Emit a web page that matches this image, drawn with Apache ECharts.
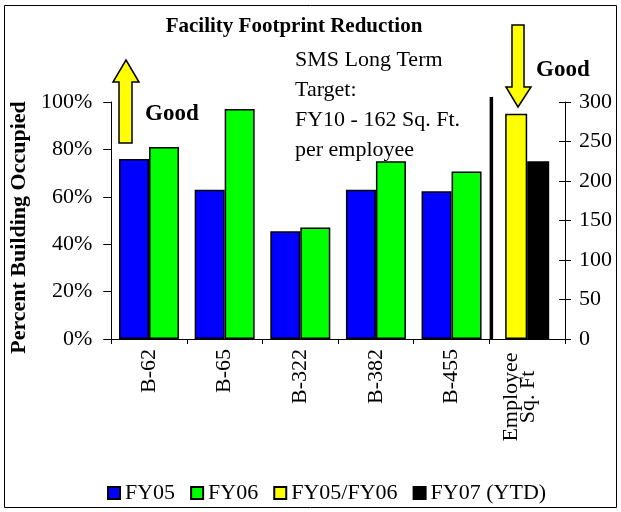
<!DOCTYPE html>
<html>
<head>
<meta charset="utf-8">
<script src="https://cdn.jsdelivr.net/npm/echarts@6/dist/echarts.min.js"></script>
<style>
  html, body { margin: 0; padding: 0; background: #fff; }
  #chart { width: 621px; height: 512px; }
</style>
</head>
<body>
<div id="chart"></div>
<script>
// Buildings plus the per-employee footprint group
const categories = ['B-62', 'B-65', 'B-322', 'B-382', 'B-455', 'Employee\nSq. Ft'];

// Percent of building occupied (left axis)
const fy05 = [76, 63, 45.5, 63, 62.3, null];
const fy06 = [81, 97, 47, 75, 70.7, null];

// Square feet per employee (right axis)
const fy0506 = [null, null, null, null, null, 285];
const fy07ytd = [null, null, null, null, null, 225];

const percentTicks = { min: 0, max: 100, interval: 20 };
const sqftTicks = { min: 0, max: 300, interval: 50 };

const SERIF = "'Liberation Serif', 'Times New Roman', serif";
const BLUE = '#0000ff', GREEN = '#00ff00', YELLOW = '#ffff00', BLACK = '#000000';

const chart = echarts.init(document.getElementById('chart'), null, { renderer: 'canvas' });

const barBorder = { borderColor: '#000', borderWidth: 1.5 };

const option = {
  backgroundColor: '#fff',
  animation: false,
  title: {
    text: 'Facility Footprint Reduction',
    left: 289, top: 11, textAlign: 'center',
    textStyle: { fontFamily: SERIF, fontWeight: 'bold', fontSize: 21, color: '#000' }
  },
  legend: {
    left: 102, top: 477,
    itemWidth: 12, itemHeight: 12, itemGap: 15,
    icon: 'rect',
    textStyle: { fontFamily: SERIF, fontSize: 22, color: '#000' },
    data: ['FY05', 'FY06', 'FY05/FY06', 'FY07 (YTD)']
  },
  grid: { left: 108, right: 56, top: 102, bottom: 173 },
  xAxis: [
    {
      type: 'category', data: categories, gridIndex: 0,
      axisLine: { lineStyle: { color: '#000', width: 1 } },
      axisTick: { show: true, length: 5, lineStyle: { color: '#000' } },
      axisLabel: {
        rotate: 90, margin: 10, interval: 0, color: '#000',
        fontFamily: SERIF, fontSize: 22,
        formatter: function (v) {
          const lines = v.split('\n');
          if (lines.length > 1) return lines.map(l => '{c|' + l + '}').join('\n') + '\n{e| }';
          return v;
        },
        rich: {
          c: { width: 96, align: 'center', fontFamily: SERIF, fontSize: 22, color: '#000', lineHeight: 17 },
          e: { fontSize: 8, lineHeight: 14 }
        }
      },
      splitLine: { show: false }
    },
    {
      type: 'category', data: categories, gridIndex: 0, show: false
    }
  ],
  yAxis: [
    {
      type: 'value', position: 'left',
      min: percentTicks.min, max: percentTicks.max, interval: percentTicks.interval,
      name: 'Percent Building Occupied', nameLocation: 'middle', nameGap: 76, nameRotate: 90,
      nameTextStyle: { fontFamily: SERIF, fontWeight: 'bold', fontSize: 22, color: '#000', padding: [0, 14, 0, 0] },
      axisLine: { show: true, lineStyle: { color: '#000' } },
      axisTick: { show: true, length: 8, lineStyle: { color: '#000' } },
      axisLabel: { formatter: '{value}%', fontFamily: SERIF, fontSize: 22, color: '#000', margin: 19 },
      splitLine: { show: false }
    },
    {
      type: 'value', position: 'right',
      min: sqftTicks.min, max: sqftTicks.max, interval: sqftTicks.interval,
      axisLine: { show: true, lineStyle: { color: '#000' } },
      axisTick: { show: true, length: 6, inside: false, lineStyle: { color: '#000' } },
      axisLabel: { fontFamily: SERIF, fontSize: 22, color: '#000', margin: 14 },
      splitLine: { show: false }
    },
    {
      // inner half of the right-hand ticks, so they cross the axis line
      type: 'value', position: 'right',
      min: sqftTicks.min, max: sqftTicks.max, interval: sqftTicks.interval,
      axisLine: { show: false },
      axisTick: { show: true, length: 6, inside: true, lineStyle: { color: '#000' } },
      axisLabel: { show: false },
      splitLine: { show: false }
    }
  ],
  series: [
    { name: 'FY05', type: 'bar', xAxisIndex: 0, yAxisIndex: 0, data: fy05,
      barWidth: 30, barGap: '0%', itemStyle: Object.assign({ color: BLUE }, barBorder) },
    { name: 'FY06', type: 'bar', xAxisIndex: 0, yAxisIndex: 0, data: fy06,
      barWidth: 30, barGap: '0%', itemStyle: Object.assign({ color: GREEN }, barBorder) },
    { name: 'FY05/FY06', type: 'bar', xAxisIndex: 1, yAxisIndex: 1, data: fy0506,
      barWidth: 22, barGap: '0%', itemStyle: Object.assign({ color: YELLOW }, barBorder) },
    { name: 'FY07 (YTD)', type: 'bar', xAxisIndex: 1, yAxisIndex: 1, data: fy07ytd,
      barWidth: 22, barGap: '0%', itemStyle: Object.assign({ color: BLACK }, barBorder) }
  ]
};

chart.setOption(option);

// Annotations: frame, "Good" direction arrows, target note and group separator
const arrowStyle = { fill: YELLOW, stroke: '#000', lineWidth: 1.5 };
const goodText = { fontFamily: SERIF, fontWeight: 'bold', fontSize: 23, fill: '#000' };

const bPx = chart.convertToPixel({ xAxisIndex: 0 }, 'B-455');
const ePx = chart.convertToPixel({ xAxisIndex: 0 }, 'Employee\nSq. Ft');
const sepX = (bPx + ePx) / 2 + 2;
const baseY = chart.convertToPixel({ yAxisIndex: 0 }, 0);

chart.setOption({
  graphic: [
    { type: 'rect', shape: { x: 4.5, y: 5.5, width: 612, height: 502 },
      style: { fill: null, stroke: '#000', lineWidth: 1 }, silent: true, z: 0 },
    { type: 'polygon', shape: { points: [[126, 60], [139, 82], [132, 82], [132, 143], [119, 143], [119, 82], [113, 82]] },
      style: arrowStyle, z: 10 },
    { type: 'text', left: 145, top: 103, style: Object.assign({ text: 'Good' }, goodText), z: 10 },
    { type: 'polygon', shape: { points: [[512, 25], [524, 25], [524, 87], [531, 87], [518, 107], [506, 87], [512, 87]] },
      style: arrowStyle, z: 10 },
    { type: 'text', left: 536, top: 59, style: Object.assign({ text: 'Good' }, goodText), z: 10 },
    { type: 'text', left: 295, top: 45, z: 10,
      style: { text: 'SMS Long Term\nTarget:\nFY10 - 162 Sq. Ft.\nper employee',
               fontFamily: SERIF, fontSize: 22, lineHeight: 30, fill: '#000' } },
    { type: 'line', shape: { x1: sepX, y1: 97, x2: sepX, y2: baseY },
      style: { stroke: '#000', lineWidth: 3.5 }, z: 10 }
  ]
});
</script>
</body>
</html>
